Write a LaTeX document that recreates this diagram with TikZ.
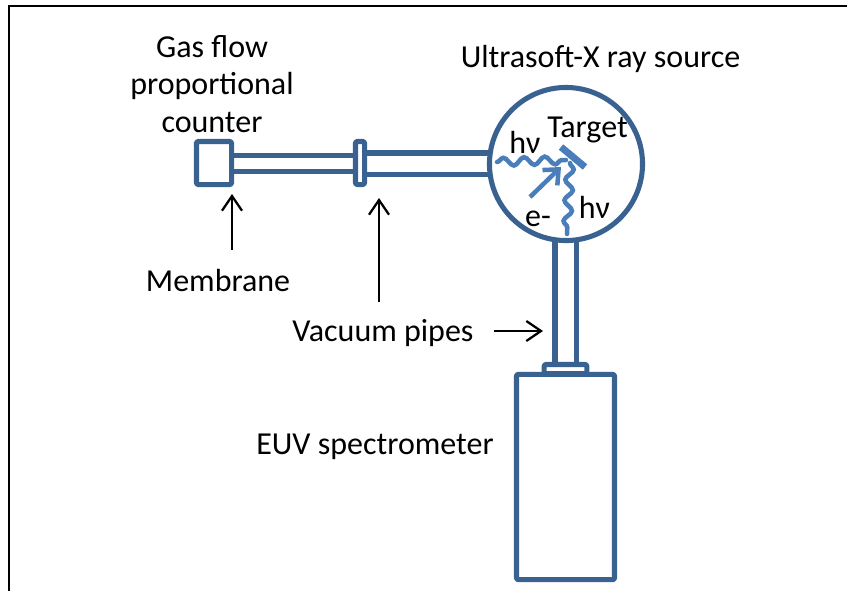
\documentclass[tikz,border=0pt]{standalone}
\usepackage{fontspec}
\setmainfont{Carlito}
\usetikzlibrary{arrows.meta,decorations.pathmorphing}
\definecolor{pipeblue}{HTML}{3A6290}
\definecolor{beamblue}{HTML}{4A7EBB}
\tikzset{
  pipe/.style={draw=pipeblue,line width=3.8pt,line join=round},
  beam/.style={draw=beamblue,line width=3.4pt},
  wave/.style={beam,line cap=round,decorate,decoration={snake,segment length=15.5pt,amplitude=3pt,post length=0pt}},
  label/.style={font=\fontsize{24}{28}\selectfont,text=black,inner sep=0pt,align=center},
  callout/.style={draw=black,line width=1.7pt,-{Straight Barb[length=11pt,width=15pt,line width=1.7pt]}}
}
\begin{document}
\begin{tikzpicture}[x=0.75pt,y=-0.75pt]
\useasboundingbox (0,0) rectangle (847,590);
\draw[black,line width=1.5pt] (9,592) -- (9,5.5) -- (849,5.5);
% pipes
\coordinate (p1a) at (232,155.5); \coordinate (p1b) at (356,155.5);
\coordinate (p1c) at (232,171.5); \coordinate (p1d) at (356,171.5);
\coordinate (p2a) at (365,153); \coordinate (p2b) at (489,153);
\coordinate (p2c) at (365,174.5); \coordinate (p2d) at (489,174.5);
\coordinate (p3a) at (555,241); \coordinate (p3b) at (555,365);
\coordinate (p3c) at (576.5,241); \coordinate (p3d) at (576.5,365);
\draw[pipe] (p1a) -- (p1b) (p1c) -- (p1d) (p2a) -- (p2b) (p2c) -- (p2d) (p3a) -- (p3b) (p3c) -- (p3d);
\node[pipe,fill=white,minimum width=26.3pt,minimum height=32.3pt,rounded corners=1pt,inner sep=0pt] (counter) at (214,163) {};
\node[pipe,minimum width=6.8pt,minimum height=32.3pt,rounded corners=1pt,inner sep=0pt] (flange) at (360,163) {};
\node[pipe,circle,minimum size=114.8pt,inner sep=0pt] (source) at (566,164) {};
\node[pipe,minimum width=32pt,minimum height=6.8pt,rounded corners=1pt,inner sep=0pt] (flange2) at (565.5,369) {};
\node[pipe,fill=white,minimum width=73.5pt,minimum height=154pt,rounded corners=1pt,inner sep=0pt] (spec) at (565.5,477) {};
% target and beams
\coordinate (t1) at (561,147); \coordinate (t2) at (585,167);
\draw[beamblue,line width=5.2pt] (t1) -- (t2);
\coordinate (wl0) at (497,162); \coordinate (wl1) at (566,160);
\draw[wave] (wl0) -- (wl1);
\coordinate (wd0) at (570,163); \coordinate (wd1) at (567,234);
\draw[wave] (wd0) -- (wd1);
\coordinate (e0) at (530,197); \coordinate (e1) at (561,167);
\draw[beam,-{Straight Barb[length=9pt,width=16pt,line width=3.4pt]}] (e0) -- (e1);
% labels
\node[label] (gas) at (212,84) {Gas flow\\[0pt]proportional\\[0pt]counter};
\node[label] (usx) at (600.5,58.5) {Ultrasoft-X ray source};
\node[label] (tgt) at (587.5,129.5) {Target};
\node[label] (hv1) at (525,142) {hν};
\node[label] (hv2) at (594.5,207) {hν};
\node[label] (em) at (538,219) {e-};
\node[label] (memb) at (218,281) {Membrane};
\node[label] (vac) at (383,333) {Vacuum pipes};
\node[label] (euv) at (375,447) {EUV spectrometer};
% callouts
\coordinate (m0) at (232,250); \coordinate (m1) at (232,194);
\draw[callout] (m0) -- (m1);
\coordinate (v0) at (379,302); \coordinate (v1) at (379,198);
\draw[callout] (v0) -- (v1);
\coordinate (s0) at (494,331); \coordinate (s1) at (543,331);
\draw[callout] (s0) -- (s1);
\end{tikzpicture}
\end{document}
